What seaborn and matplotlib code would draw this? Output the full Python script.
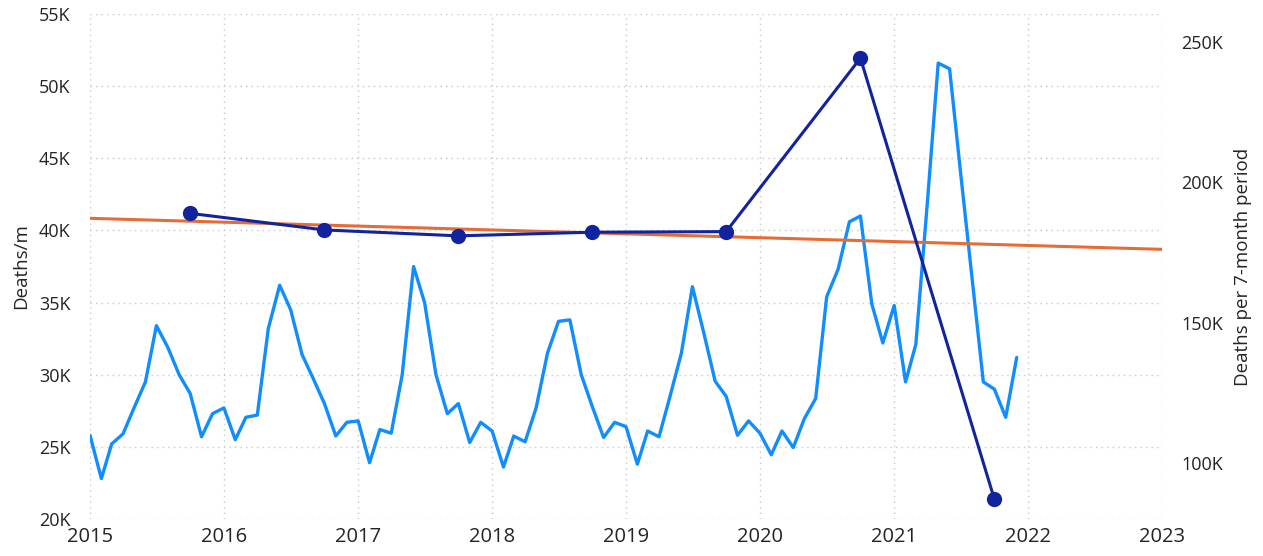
import numpy as np
import pandas as pd
import matplotlib
matplotlib.use("Agg")
import matplotlib.pyplot as plt
import matplotlib.dates as mdates
from matplotlib.ticker import FuncFormatter, FixedLocator
import seaborn as sns

# Monthly deaths, Jan 2015 - Dec 2021
monthly_deaths = [
    25800, 22800, 25200, 25900, 27700, 29500, 33400, 31900, 30000, 28700, 25700, 27300,
    27700, 25500, 27050, 27200, 33200, 36200, 34500, 31400, 29700, 28000, 25750, 26700,
    26800, 23900, 26200, 25950, 30000, 37500, 35000, 30000, 27300, 28000, 25300, 26700,
    26100, 23600, 25750, 25350, 27700, 31500, 33700, 33800, 30000, 27800, 25650, 26700,
    26400, 23800, 26100, 25700, 28500, 31500, 36100, 32900, 29550, 28500, 25800, 26800,
    25950, 24450, 26100, 24950, 26950, 28350, 35400, 37300, 40600, 41000, 34900, 32200,
    34800, 29500, 32100, 41800, 51600, 51200, 44000, 36750, 29500, 29000, 27050, 31200,
]

# Deaths per 7-month period (plotted at October of each year)
period_dates = ["2015-10-01", "2016-10-01", "2017-10-01", "2018-10-01",
                "2019-10-01", "2020-10-01", "2021-10-01"]
period_deaths = [188900, 183000, 180900, 182200, 182400, 244100, 87300]

# Trend line end points (monthly scale)
trend_dates = ["2015-01-01", "2023-01-01"]
trend_values = [40840, 38690]

left_ticks = [20000, 25000, 30000, 35000, 40000, 45000, 50000, 55000]
right_ticks = [100000, 150000, 200000, 250000]
year_ticks = ["2015", "2016", "2017", "2018", "2019", "2020", "2021", "2022", "2023"]

monthly_df = pd.DataFrame({
    "date": pd.date_range("2015-01-01", periods=len(monthly_deaths), freq="MS"),
    "deaths": monthly_deaths,
})
period_df = pd.DataFrame({"date": pd.to_datetime(period_dates), "deaths": period_deaths})
trend_df = pd.DataFrame({"date": pd.to_datetime(trend_dates), "deaths": trend_values})

sns.set_theme(style="white")
plt.rcParams["font.family"] = ["Open Sans", "DejaVu Sans"]

text_color = "#252423"
light_blue = "#118DFF"
navy = "#12239E"
orange = "#E66C37"

fig = plt.figure(figsize=(12.63, 5.56), dpi=100)
ax = fig.add_axes([90 / 1263, 37 / 556, 1072 / 1263, 505 / 556])
ax2 = ax.twinx()

sns.lineplot(data=monthly_df, x="date", y="deaths", ax=ax, color=light_blue,
             linewidth=2.4, zorder=3)
sns.lineplot(data=trend_df, x="date", y="deaths", ax=ax, color=orange,
             linewidth=2.2, zorder=4)
sns.lineplot(data=period_df, x="date", y="deaths", ax=ax2, color=navy,
             linewidth=2.2, marker="o", markersize=11, markeredgewidth=0,
             zorder=5)

# x axis
ax.set_xlim(pd.Timestamp("2015-01-01"), pd.Timestamp("2023-01-01"))
ax.xaxis.set_major_locator(FixedLocator(mdates.date2num(pd.to_datetime(year_ticks))))
ax.set_xticklabels(year_ticks)

# left axis
ax.set_ylim(20000, 55000)
ax.yaxis.set_major_locator(FixedLocator(left_ticks))
ax.yaxis.set_major_formatter(FuncFormatter(lambda v, p: f"{v / 1000:.0f}K"))

# right axis
ax2.set_ylim(80200, 259800)
ax2.yaxis.set_major_locator(FixedLocator(right_ticks))
ax2.yaxis.set_major_formatter(FuncFormatter(lambda v, p: f"{v / 1000:.0f}K"))

ax.set_xlabel("")
ax.set_ylabel("Deaths/m", fontsize=13.5, color=text_color, labelpad=6)
ax2.set_ylabel("Deaths per 7-month period", fontsize=13.5, color=text_color, labelpad=8)

ax.grid(True, which="major", axis="both", linestyle=(0, (1, 3)), color="#C8C8C8",
        linewidth=1.0)
ax2.grid(False)
ax.set_axisbelow(True)

for a in (ax, ax2):
    for s in a.spines.values():
        s.set_visible(False)
    a.tick_params(length=0, labelsize=13, labelcolor=text_color)
ax.tick_params(axis="x", labelsize=14.5, pad=6)
ax.tick_params(axis="y", pad=14)
ax2.tick_params(axis="y", pad=14)

ax.set_zorder(ax2.get_zorder() - 1)
ax.patch.set_visible(True)
ax2.patch.set_visible(False)

fig.savefig("out.png", dpi=100, facecolor="white")
